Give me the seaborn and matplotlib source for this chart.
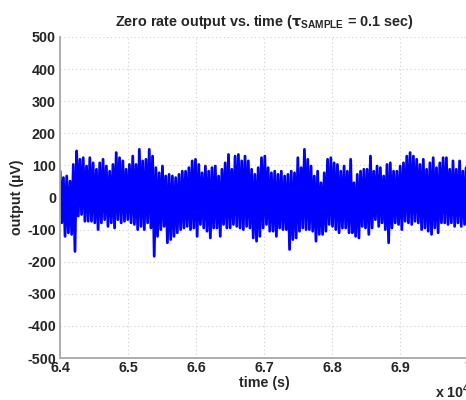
import numpy as np
import pandas as pd
import matplotlib
matplotlib.use("Agg")
import matplotlib.pyplot as plt
import seaborn as sns

# Zero-rate output record, 64000 s to 70000 s (tau_sample = 0.1 s).
# Successive local maxima and minima of the output (uV) along the record.
peaks = [82, 62, 67, 51, 103, 145, 119, 124, 98, 124, 108, 88, 108, 119, 98, 82,
         103, 140, 124, 114, 88, 103, 129, 103, 150, 114, 119, 150, 129, 93, 77,
         98, 67, 72, 67, 62, 72, 82, 82, 93, 114, 119, 103, 77, 98, 82, 93,
         98, 67, 88, 108, 134, 88, 129, 134, 114, 129, 114, 88, 72, 93, 124,
         129, 93, 77, 82, 72, 82, 67, 72, 82, 77, 124, 93, 150, 119, 98, 67,
         82, 46, 77, 119, 124, 108, 103, 82, 98, 82, 119, 46, 72, 82, 88,
         88, 129, 82, 98, 93, 67, 103, 108, 82, 82, 98, 108, 129, 140, 129, 119,
         103, 119, 88, 108, 124, 93, 108, 124, 124, 88, 114, 88, 114, 82, 93]
troughs = [-79, -121, -110, -115, -168, -58, -53, -74, -74, -74, -79, -100, -79, -69, -90, -79,
           -95, -69, -79, -74, -69, -79, -84, -100, -90, -100, -79, -95, -183, -121, -100,
           -90, -141, -131, -121, -110, -100, -95, -90, -100, -95, -121, -84, -95, -105, -126, -95,
           -95, -121, -84, -95, -95, -84, -90, -95, -100, -90, -95, -126, -136, -121, -95,
           -84, -105, -105, -121, -95, -100, -100, -162, -131, -126, -105, -95, -100, -100, -105,
           -136, -115, -115, -105, -84, -90, -100, -110, -95, -95, -110, -110, -121, -126, -90, -95,
           -115, -95, -69, -90, -79, -100, -141, -95, -79, -84, -100, -74, -79, -84, -74, -79,
           -100, -95, -105, -115, -95, -110, -79, -79, -84, -79, -90, -79, -90, -84, -90]

t_start, t_end = 64000, 70000
x_ticks = [64000, 65000, 66000, 67000, 68000, 69000, 70000]
x_tick_labels = ["6.4", "6.5", "6.6", "6.7", "6.8", "6.9", "7"]
y_ticks = [-500, -400, -300, -200, -100, 0, 100, 200, 300, 400, 500]

signal = np.empty(2 * len(peaks))
signal[0::2] = peaks
signal[1::2] = troughs
time = np.linspace(t_start, t_end, len(signal))
df = pd.DataFrame({"time": time, "output": signal})

sns.set_style("white")
plt.rcParams["font.family"] = ["Liberation Sans", "DejaVu Sans"]
plt.rcParams["font.weight"] = "bold"
plt.rcParams["axes.unicode_minus"] = False
plt.rcParams["mathtext.fontset"] = "custom"
plt.rcParams["mathtext.rm"] = "Liberation Sans:bold"
plt.rcParams["mathtext.bf"] = "Liberation Sans:bold"
plt.rcParams["mathtext.it"] = "DejaVu Sans:bold"

fig = plt.figure(figsize=(4.66, 4.0), dpi=100)
ax = fig.add_axes([0.129, 0.105, 0.875, 0.8025])

sns.lineplot(data=df, x="time", y="output", ax=ax, color="#0000ff",
             linewidth=2.0, estimator=None, sort=False)

ax.set_xlim(t_start, t_end)
ax.set_ylim(-500, 500)
ax.set_xticks(x_ticks)
ax.set_xticklabels(x_tick_labels)
ax.set_yticks(y_ticks)
ax.grid(True, linestyle=(0, (1, 2.5)), color="#d0d0d0", linewidth=0.8)
ax.set_axisbelow(True)

for side in ("top", "right"):
    ax.spines[side].set_visible(False)
for side in ("left", "bottom"):
    ax.spines[side].set_color("#a8a8a8")
    ax.spines[side].set_linewidth(1.3)

ax.tick_params(axis="both", direction="in", length=3, color="#a8a8a8",
               labelsize=10.3, pad=3)
ax.tick_params(axis="x", pad=2)
for lbl in ax.get_xticklabels() + ax.get_yticklabels():
    lbl.set_fontweight("bold")

ax.set_xlabel("time (s)", fontsize=10.3, fontweight="bold", labelpad=1)
ax.set_ylabel("output (\u00b5V)", fontsize=10.3, fontweight="bold", labelpad=2)
ax.set_title(r"Zero rate output vs. time ($\tau_{\mathrm{SAMPLE}}$ = 0.1 sec)",
             fontsize=10.4, fontweight="bold", pad=8)

fig.text(0.933, 0.02, r"x 10$^{4}$", fontsize=10.3, fontweight="bold",
         ha="left", va="center")

fig.savefig("out.png", dpi=100)
